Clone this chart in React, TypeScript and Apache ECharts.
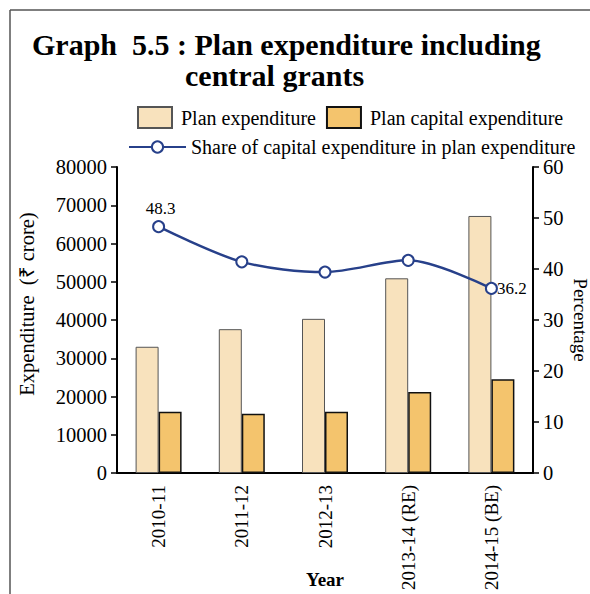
import React, { useEffect, useRef } from "react";
import * as echarts from "echarts";

const categories = ["2010-11", "2011-12", "2012-13", "2013-14 (RE)", "2014-15 (BE)"];
const planExpenditure = [33000, 37600, 40300, 50900, 67200];
const planCapitalExpenditure = [16000, 15500, 16000, 21200, 24500];
const capitalShare = [48.3, 41.4, 39.4, 41.7, 36.2];
const leftTicks = { min: 0, max: 80000, interval: 10000 };
const rightTicks = { min: 0, max: 60, interval: 10 };

const FONT = "'Liberation Serif', 'Times New Roman', serif";

export default function App() {
  const ref = useRef<HTMLDivElement>(null);
  useEffect(() => {
    if (!ref.current) return;
    const chart = echarts.init(ref.current, undefined, { renderer: "svg" });
    const lineColor = "#27408a";
    chart.setOption({
      animation: false,
      backgroundColor: "#ffffff",
      textStyle: { fontFamily: FONT, color: "#000" },
      title: [
        {
          text: "Graph  5.5 : Plan expenditure including",
          left: 27,
          top: 24,
          textStyle: { fontFamily: FONT, fontWeight: "bold", fontSize: 30, color: "#000" },
        },
        {
          text: "central grants",
          left: 180,
          top: 55,
          textStyle: { fontFamily: FONT, fontWeight: "bold", fontSize: 30, color: "#000" },
        },
      ],
      graphic: [
        { type: "line", shape: { x1: 10, y1: 10, x2: 590, y2: 10 }, style: { stroke: "#555", lineWidth: 1.5 } },
        { type: "line", shape: { x1: 10, y1: 10, x2: 10, y2: 594 }, style: { stroke: "#555", lineWidth: 1.5 } },
      ],
      legend: [
        {
          data: ["Plan expenditure", "Plan capital expenditure"],
          left: 132,
          top: 101,
          icon: "rect",
          itemWidth: 34,
          itemHeight: 21,
          itemGap: 10,
          textStyle: { fontFamily: FONT, fontSize: 20, color: "#000", padding: [0, 0, 0, 4] },
        },
        {
          data: ["Share of capital expenditure in plan expenditure"],
          left: 123,
          top: 132,
          itemWidth: 57,
          itemHeight: 14,
          textStyle: { fontFamily: FONT, fontSize: 20, color: "#000" },
        },
      ],
      grid: { left: 117, right: 57, top: 167, bottom: 121, containLabel: false, outerBoundsMode: "none" },
      xAxis: {
        type: "category",
        data: categories,
        name: "Year",
        nameLocation: "middle",
        nameGap: 97,
        nameMoveOverlap: false,
        nameTextStyle: { fontFamily: FONT, fontWeight: "bold", fontSize: 19, color: "#000" },
        axisLine: { lineStyle: { color: "#000", width: 2 } },
        axisTick: { lineStyle: { color: "#000", width: 1.5 }, length: 6 },
        axisLabel: { rotate: 90, fontFamily: FONT, fontSize: 19, color: "#000", margin: 12 },
      },
      yAxis: [
        {
          type: "value",
          ...leftTicks,
          name: "Expenditure  (\u20b9 crore)",
          nameLocation: "middle",
          nameGap: 80,
          nameMoveOverlap: false,
          nameTextStyle: { fontFamily: FONT, fontSize: 20.5, color: "#000", padding: [0, 0, 0, 32] },
          axisLine: { show: true, lineStyle: { color: "#000", width: 2 } },
          axisTick: { show: true, length: 6, lineStyle: { color: "#000", width: 1.5 } },
          axisLabel: { fontFamily: FONT, fontSize: 20.5, color: "#000", margin: 10, formatter: (v: number) => String(v) },
          splitLine: { show: false },
        },
        {
          type: "value",
          ...rightTicks,
          position: "right",
          name: "Percentage",
          nameLocation: "middle",
          nameRotate: -90,
          nameGap: 38,
          nameMoveOverlap: false,
          nameTextStyle: { fontFamily: FONT, fontSize: 19, color: "#000" },
          axisLine: { show: true, lineStyle: { color: "#000", width: 2 } },
          axisTick: { show: true, length: 6, lineStyle: { color: "#000", width: 1.5 } },
          axisLabel: { fontFamily: FONT, fontSize: 20.5, color: "#000", margin: 10, formatter: (v: number) => String(v) },
          splitLine: { show: false },
        },
      ],
      series: [
        {
          name: "Plan expenditure",
          type: "bar",
          data: planExpenditure,
          barWidth: 23,
          barGap: "0%",
          itemStyle: { color: "#f8e2bd", borderColor: "#555", borderWidth: 1 },
        },
        {
          name: "Plan capital expenditure",
          type: "bar",
          data: planCapitalExpenditure,
          barWidth: 23,
          barGap: "0%",
          itemStyle: { color: "#f4c46d", borderColor: "#111", borderWidth: 1.5 },
        },
        {
          name: "Share of capital expenditure in plan expenditure",
          type: "line",
          yAxisIndex: 1,
          data: capitalShare.map((v, i) => {
            if (i === 0)
              return { value: v, label: { show: true, position: "top", distance: 3, offset: [2, 0] } };
            if (i === capitalShare.length - 1)
              return { value: v, label: { show: true, position: "right", distance: -1 } };
            return v;
          }),
          smooth: 0.3,
          symbol: "emptyCircle",
          symbolSize: 11,
          lineStyle: { color: lineColor, width: 2.5 },
          itemStyle: { color: lineColor, borderWidth: 2.5 },
          label: { fontFamily: FONT, fontSize: 17, color: "#000" },
        },
      ],
    });
    return () => chart.dispose();
  }, []);
  return (
    <div
      ref={ref}
      style={{ position: "absolute", left: 0, top: 0, width: 590, height: 594 }}
    />
  );
}
